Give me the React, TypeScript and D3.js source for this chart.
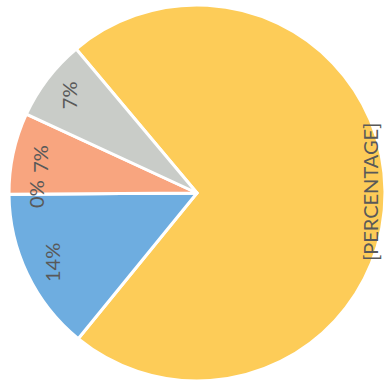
import React from "react";
import * as d3 from "d3";

const categories = ["Yellow", "Blue", "OrangeZero", "Orange", "Gray"];
const values = [72, 14, 0, 7, 7];
const labels = ["[PERCENTAGE]", "14%", "0%", "7%", "7%"];
const colors = ["#FDCC58", "#6EADE0", "#F8A57F", "#F8A57F", "#C9CCC8"];

export default function App() {
  const width = 390;
  const height = 390;
  const cx = 197;
  const cy = 193;
  const r = 188;
  const start = (-40 * Math.PI) / 180;

  const pie = d3
    .pie<number>()
    .sort(null)
    .startAngle(start)
    .endAngle(start + 2 * Math.PI);
  const arcs = pie(values);
  const arc = d3.arc<d3.PieArcDatum<number>>().innerRadius(0).outerRadius(r);

  const labelPos = (a: d3.PieArcDatum<number>, i: number) => {
    const mid = (a.startAngle + a.endAngle) / 2;
    const rr = i === 0 ? r * 0.92 : r * 0.855;
    return [Math.sin(mid) * rr, -Math.cos(mid) * rr];
  };

  return (
    <div style={{ position: "fixed", left: 0, top: 0 }}>
      <svg width={width} height={height} style={{ display: "block", background: "#fff" }}>
        <g transform={`translate(${cx},${cy})`}>
          {arcs.map((a, i) => (
            <path
              key={categories[i]}
              d={arc(a) || ""}
              fill={colors[i]}
              stroke="#fff"
              strokeWidth={3}
              strokeLinejoin="round"
            />
          ))}
          {arcs.map((a, i) => {
            const [x, y] = labelPos(a, i);
            return (
              <text
                key={"l" + categories[i]}
                transform={`translate(${x},${y}) rotate(-90)`}
                textAnchor="middle"
                dominantBaseline="central"
                fontFamily="Lato, 'Open Sans', sans-serif"
                fontSize={20}
                fill="#595959"
              >
                {labels[i]}
              </text>
            );
          })}
        </g>
      </svg>
    </div>
  );
}
